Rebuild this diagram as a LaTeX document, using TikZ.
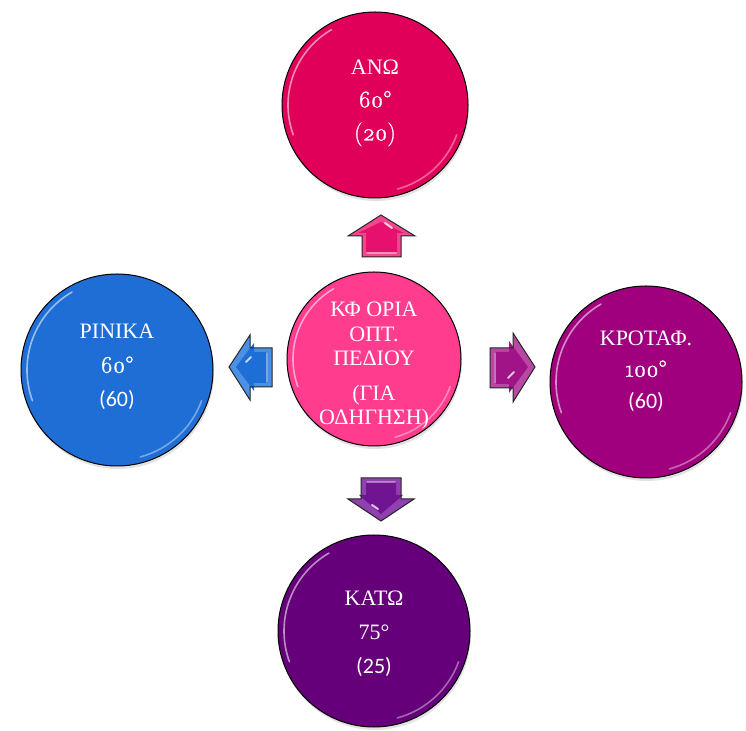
\documentclass[tikz,border=0pt]{standalone}
\usepackage{fontspec}
\setmainfont{Liberation Serif}
\newfontfamily\osf{Latin Modern Roman}[Numbers=OldStyle, FakeBold=1.2, Scale=1.08]
\newfontfamily\calfont{Carlito}
\usetikzlibrary{shadows}
\definecolor{cTop}{HTML}{E0005A}
\definecolor{cMid}{HTML}{FF3C8E}
\definecolor{cLeft}{HTML}{1F6ED6}
\definecolor{cRight}{HTML}{A0007E}
\definecolor{cBot}{HTML}{66007A}
\definecolor{aUp}{HTML}{E8106E}
\definecolor{aUpL}{HTML}{F0488C}
\definecolor{aLeft}{HTML}{1E6ED8}
\definecolor{aLeftL}{HTML}{4C90E6}
\definecolor{aRight}{HTML}{A01488}
\definecolor{aRightL}{HTML}{B848A4}
\definecolor{aDown}{HTML}{701492}
\definecolor{aDownL}{HTML}{9040B0}
\tikzset{
  ball/.style={circle, draw=black, line width=1pt, inner sep=0pt, minimum size=#1,
    drop shadow={opacity=.22, shadow xshift=1pt, shadow yshift=-3pt}},
  lbl/.style={text=white, align=center, font=\fontsize{22}{33}\selectfont},
  gloss/.style={white, line width=1.6pt, opacity=.55, line cap=round},
  arrout/.style={draw=black!85, line width=1pt, line join=miter},
  arrhi/.style={white, opacity=.75, line width=2pt, line cap=round},
}
\begin{document}
\begin{tikzpicture}[x=1pt,y=1pt]
\useasboundingbox (0,0) rectangle (746,730);
% circles
\node[ball=186, fill=cTop]   (top)   at (375,625) {};
\node[ball=174, fill=cMid]   (mid)   at (374,371) {};
\node[ball=192, fill=cLeft]  (left)  at (117,360) {};
\node[ball=192, fill=cRight] (right) at (646,348) {};
\node[ball=192, fill=cBot]   (bot)   at (374,99)  {};
% gloss highlights
\foreach \n/\r in {top/87, mid/81, left/90, right/90, bot/90}{
  \draw[gloss] ([shift={(120:\r)}]\n.center) arc[start angle=120, end angle=200, radius=\r];
  \draw[gloss, opacity=.4] ([shift={(-75:\r)}]\n.center) arc[start angle=-75, end angle=-20, radius=\r];
}
% texts
\node[lbl] (ttop) at (375,627) {ΑΝΩ\\{\osf 60°}\\{\osf (20)}};
\node[lbl, font=\fontsize{22}{24.5}\selectfont] (tmid) at (374,364)
  {ΚΦ ΟΡΙΑ\\ΟΠΤ.\\ΠΕΔΙΟΥ\\[10pt](ΓΙΑ\\ΟΔΗΓΗΣΗ)};
\node[lbl, font=\fontsize{22}{34}\selectfont] (tleft) at (117,363)
  {ΡΙΝΙΚΑ\\{\osf 60°}\\{\calfont (60)}};
\node[lbl, font=\fontsize{22}{31.5}\selectfont] (tright) at (646,359)
  {ΚΡΟΤΑΦ.\\{\osf 100°}\\{\calfont (60)}};
\node[lbl, font=\fontsize{22}{34}\selectfont] (tbot) at (374,96)
  {ΚΑΤΩ\\75°\\{\calfont (25)}};
% up arrow
\fill[aUpL] (381,515) -- (415,494) -- (401,494) -- (401,473) -- (362,473) -- (362,494) -- (348,494) -- cycle;
\fill[aUp] (381,508) -- (404,497) -- (397,497) -- (397,478) -- (366,478) -- (366,497) -- (358,497) -- cycle;
\draw[arrout] (381,515) -- (415,494) -- (401,494) -- (401,473) -- (362,473) -- (362,494) -- (348,494) -- cycle;
\draw[arrhi] (385,507) -- (392,502);
\draw[arrhi, opacity=.4] (367,477) -- (396,477);
% down arrow
\fill[aDownL] (381,209) -- (414,231) -- (401,231) -- (401,252) -- (361,252) -- (361,231) -- (348,231) -- cycle;
\fill[aDown] (381,216) -- (403,235) -- (396,235) -- (396,248) -- (366,248) -- (366,235) -- (359,235) -- cycle;
\draw[arrout] (381,209) -- (414,231) -- (401,231) -- (401,252) -- (361,252) -- (361,231) -- (348,231) -- cycle;
\draw[arrhi] (372,225) -- (378,221);
\draw[arrhi, opacity=.4] (367,248) -- (395,248);
% left arrow
\fill[aLeftL] (229,363) -- (250,395) -- (250,382) -- (272,382) -- (272,343) -- (250,343) -- (250,330) -- cycle;
\fill[aLeft] (236,363) -- (254,387) -- (254,378) -- (268,378) -- (268,347) -- (254,347) -- (254,339) -- cycle;
\draw[arrout] (229,363) -- (250,395) -- (250,382) -- (272,382) -- (272,343) -- (250,343) -- (250,330) -- cycle;
\draw[arrhi] (246,368) -- (251,373);
\draw[arrhi, opacity=.4] (267,348) -- (267,377);
% right arrow
\fill[aRightL] (535,363) -- (513,397) -- (513,382) -- (490,382) -- (490,342) -- (513,342) -- (513,328) -- cycle;
\fill[aRight] (528,363) -- (509,389) -- (509,378) -- (494,378) -- (494,346) -- (509,346) -- (509,337) -- cycle;
\draw[arrout] (535,363) -- (513,397) -- (513,382) -- (490,382) -- (490,342) -- (513,342) -- (513,328) -- cycle;
\draw[arrhi] (514,358) -- (508,352);
\draw[arrhi, opacity=.4] (495,347) -- (495,377);
\end{tikzpicture}
\end{document}
